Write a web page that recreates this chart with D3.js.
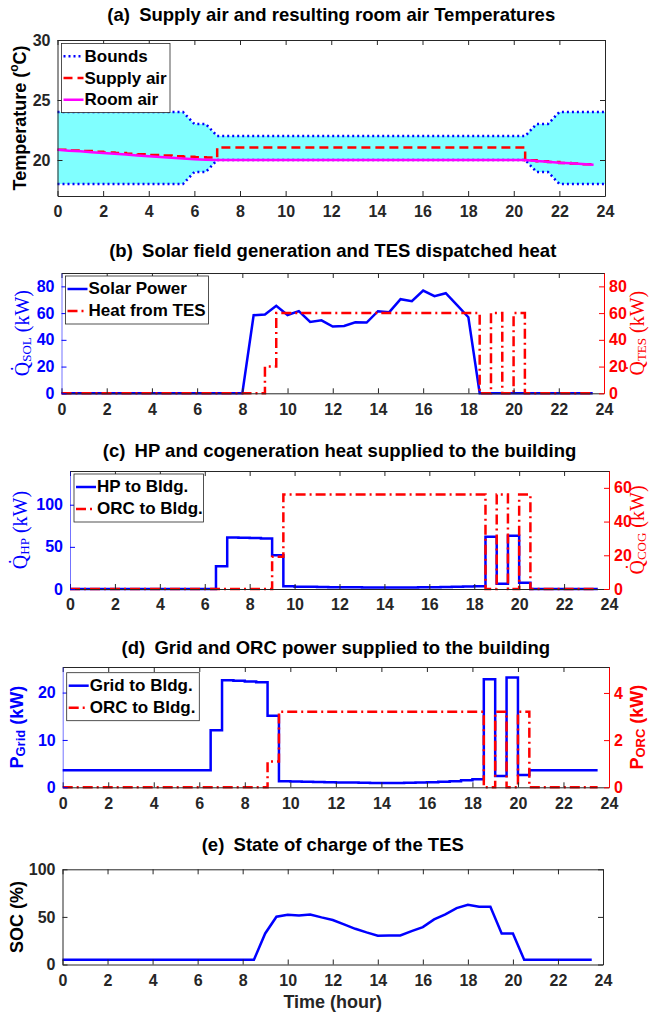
<!DOCTYPE html>
<html>
<head>
<meta charset="utf-8">
<script src="https://cdn.jsdelivr.net/npm/d3@7"></script>
<style>
  body { margin: 0; background: #fff; }
  text { font-family: "Liberation Sans", Arial, sans-serif; }
</style>
</head>
<body>
<script>
'use strict';

// -----------------------------------------------------
// Data (half-hourly time steps)

const hours = [0, 0.5, 1, 1.5, 2, 2.5, 3, 3.5, 4, 4.5, 5, 5.5, 6, 6.5, 7, 7.5, 8, 8.5, 9, 9.5,
    10, 10.5, 11, 11.5, 12, 12.5, 13, 13.5, 14, 14.5, 15, 15.5, 16, 16.5, 17, 17.5, 18, 18.5, 19, 19.5,
    20, 20.5, 21, 21.5, 22, 22.5, 23, 23.5];
const boundHours = hours.concat([24]);
const xTicks = [0, 2, 4, 6, 8, 10, 12, 14, 16, 18, 20, 22, 24];

// (a) temperatures
const upperBound = [24, 24, 24, 24, 24, 24, 24, 24, 24, 24, 24, 24, 23, 23,
    22, 22, 22, 22, 22, 22, 22, 22, 22, 22, 22, 22, 22, 22, 22, 22, 22, 22, 22, 22, 22, 22, 22, 22, 22, 22, 22, 22,
    23, 23, 24, 24, 24, 24, 24];
const lowerBound = [18, 18, 18, 18, 18, 18, 18, 18, 18, 18, 18, 18, 19, 19,
    20, 20, 20, 20, 20, 20, 20, 20, 20, 20, 20, 20, 20, 20, 20, 20, 20, 20, 20, 20, 20, 20, 20, 20, 20, 20, 20, 20,
    19, 19, 18, 18, 18, 18, 18];
const supplyAir = [20.86, 20.80, 20.74, 20.69, 20.63, 20.58, 20.52, 20.47, 20.42, 20.37, 20.32, 20.27, 20.23, 20.2,
    21.05, 21.05, 21.05, 21.05, 21.05, 21.05, 21.05, 21.05, 21.05, 21.05, 21.05, 21.05, 21.05, 21.05,
    21.05, 21.05, 21.05, 21.05, 21.05, 21.05, 21.05, 21.05, 21.05, 21.05, 21.05, 21.05, 21.05,
    19.97, 19.9, 19.83, 19.76, 19.7, 19.64, 19.6];
const roomAir = [20.85, 20.78, 20.72, 20.65, 20.58, 20.52, 20.45, 20.38, 20.32, 20.25, 20.18, 20.12, 20.06, 20.02,
    20, 20, 20, 20, 20, 20, 20, 20, 20, 20, 20, 20, 20, 20, 20, 20, 20, 20, 20, 20, 20, 20, 20, 20, 20, 20, 20, 20,
    19.92, 19.85, 19.78, 19.72, 19.66, 19.6];

// (b) solar field and TES
const solarPower = [0, 0, 0, 0, 0, 0, 0, 0, 0, 0, 0, 0, 0, 0, 0, 0, 0,
    58.4, 58.9, 65.4, 58.6, 61.5, 53.4, 54.6, 49.9, 50.4, 53.1, 52.9, 61.4, 60.7, 70.4, 68.9, 76.9, 72.7, 74.9, 66, 56.9,
    0, 0, 0, 0, 0, 0, 0, 0, 0, 0, 0];
const heatFromTes = [0, 0, 0, 0, 0, 0, 0, 0, 0, 0, 0, 0, 0, 0, 0, 0, 0, 0,
    20, 60, 60, 60, 60, 60, 60, 60, 60, 60, 60, 60, 60, 60, 60, 60, 60, 60, 60,
    0, 60, 0, 60, 0, 0, 0, 0, 0, 0, 0];

// (c) HP and cogeneration heat
const hpHeat = [0, 0, 0, 0, 0, 0, 0, 0, 0, 0, 0, 0, 0,
    27, 61.1, 60.8, 60.4, 60.0, 40,
    3.2, 2.8, 2.6, 2.4, 2.2, 2.1, 2.0, 1.9, 1.8, 1.8, 1.8, 1.9, 2.0, 2.2, 2.4, 2.7, 3.0, 3.4,
    61.9, 6.3, 63.3, 7.3, 0, 0, 0, 0, 0, 0, 0];
const orcHeat = [0, 0, 0, 0, 0, 0, 0, 0, 0, 0, 0, 0, 0, 0, 0, 0, 0, 0,
    19.2, 56, 56, 56, 56, 56, 56, 56, 56, 56, 56, 56, 56, 56, 56, 56, 56, 56, 56,
    0, 56, 0, 56, 0, 0, 0, 0, 0, 0, 0];

// (d) grid and ORC power
const gridPower = [3.6, 3.6, 3.6, 3.6, 3.6, 3.6, 3.6, 3.6, 3.6, 3.6, 3.6, 3.6, 3.6,
    12.06, 22.6, 22.5, 22.35, 22.2, 15.1,
    1.28, 1.2, 1.15, 1.1, 1.05, 1.0, 1.0, 0.95, 0.9, 0.9, 0.9, 0.95, 1.0, 1.05, 1.15, 1.3, 1.5, 1.7,
    22.8, 2.4, 23.2, 2.6, 3.6, 3.6, 3.6, 3.6, 3.6, 3.6, 3.6];
const orcPower = [0, 0, 0, 0, 0, 0, 0, 0, 0, 0, 0, 0, 0, 0, 0, 0, 0, 0,
    1.09, 3.2, 3.2, 3.2, 3.2, 3.2, 3.2, 3.2, 3.2, 3.2, 3.2, 3.2, 3.2, 3.2, 3.2, 3.2, 3.2, 3.2, 3.2,
    0, 3.2, 0, 3.2, 0, 0, 0, 0, 0, 0, 0];

// (e) state of charge
const soc = [5, 5, 5, 5, 5, 5, 5, 5, 5, 5, 5, 5, 5, 5, 5, 5, 5, 5,
    32.6, 50.2, 52.3, 51.6, 52.6, 49.5, 46.7, 42.1, 37.5, 33.7, 30.2, 30.5, 30.5, 35.1, 39.3, 47.4, 52.6, 59.3,
    62.8, 60.7, 60.7, 32.6, 32.6, 5, 5, 5, 5, 5, 5, 5];

// -----------------------------------------------------
// Styles

const BLUE = '#0000ff';
const RED = '#ff0000';
const MAGENTA = '#ff00ff';
const CYAN = '#80ffff';
const INK = '#262626';
const DOTTED = '2,3';
const DASHED = '9,5';
const DASHDOT = '10,4,2,4';
const TICK_FONT = 16;

const svg = d3.select('body').append('svg')
    .attr('width', 650)
    .attr('height', 1017);

// -----------------------------------------------------
// Helpers

function styleAxis(g, color) {
    g.attr('color', color)
     .attr('font-family', '"Liberation Sans", Arial, sans-serif')
     .attr('font-size', TICK_FONT)
     .attr('font-weight', 'bold');
    g.selectAll('text').attr('fill', color);
}

function drawTitle(box, label) {
    svg.append('text')
       .attr('x', (box.left + box.right) / 2)
       .attr('y', box.titleY)
       .attr('text-anchor', 'middle')
       .attr('dominant-baseline', 'middle')
       .attr('font-size', 18.5)
       .attr('font-weight', 'bold')
       .attr('fill', '#000')
       .text(label);
}

function drawAxes(box, x, yLeft, leftTicks, leftColor, yRight, rightTicks) {
    const fmt = d3.format('~g');

    // bottom and top
    svg.append('g')
       .attr('transform', `translate(0,${box.bottom})`)
       .call(d3.axisBottom(x).tickValues(xTicks).tickSize(-5).tickSizeOuter(0).tickPadding(10))
       .call(styleAxis, INK);
    svg.append('g')
       .attr('transform', `translate(0,${box.top})`)
       .call(d3.axisTop(x).tickValues(xTicks).tickSize(-5).tickSizeOuter(0).tickFormat(''))
       .call(styleAxis, INK);

    // left
    const left = svg.append('g')
       .attr('transform', `translate(${box.left},0)`)
       .call(d3.axisLeft(yLeft).tickValues(leftTicks).tickFormat(fmt).tickSize(-5).tickSizeOuter(0).tickPadding(7))
       .call(styleAxis, leftColor);
    if (leftColor !== INK) left.select('.domain').attr('stroke-opacity', 0.55);

    // right
    if (yRight) {
        svg.append('g')
           .attr('transform', `translate(${box.right},0)`)
           .call(d3.axisRight(yRight).tickValues(rightTicks).tickFormat(fmt).tickSize(-5).tickSizeOuter(0).tickPadding(5))
           .call(styleAxis, RED);
    } else {
        svg.append('g')
           .attr('transform', `translate(${box.right},0)`)
           .call(d3.axisRight(yLeft).tickValues(leftTicks).tickSize(-5).tickSizeOuter(0).tickFormat(''))
           .call(styleAxis, INK);
    }
}

function drawSeries(xs, ys, x, y, color, dash, curve) {
    const line = d3.line()
        .x((d, i) => x(xs[i]))
        .y(d => y(d))
        .curve(curve);
    svg.append('path')
       .datum(ys)
       .attr('d', line)
       .attr('fill', 'none')
       .attr('stroke', color)
       .attr('stroke-width', 2.5)
       .attr('stroke-dasharray', dash);
}

function drawLegend(x0, y0, w, rowH, rows) {
    const h = rows.length * rowH + 4;
    svg.append('rect')
       .attr('x', x0).attr('y', y0)
       .attr('width', w).attr('height', h)
       .attr('fill', '#fff')
       .attr('stroke', INK)
       .attr('stroke-width', 0.8);
    rows.forEach((r, i) => {
        const cy = y0 + 2 + rowH / 2 + i * rowH;
        svg.append('line')
           .attr('x1', x0 + 2).attr('x2', x0 + 22)
           .attr('y1', cy).attr('y2', cy)
           .attr('stroke', r.color)
           .attr('stroke-width', 2.5)
           .attr('stroke-dasharray', r.dash);
        svg.append('text')
           .attr('x', x0 + 23).attr('y', cy + 1)
           .attr('dominant-baseline', 'middle')
           .attr('font-size', 17)
           .attr('font-weight', 'bold')
           .attr('fill', '#000')
           .text(r.label);
    });
}

// Rotated axis label with a subscript
function drawYLabel(cx, cy, main, sub, tail, color, serif) {
    const t = svg.append('text')
       .attr('transform', `translate(${cx},${cy}) rotate(-90)`)
       .attr('text-anchor', 'middle')
       .attr('dominant-baseline', 'middle')
       .attr('fill', color)
       .attr('font-size', serif ? 20 : 18)
       .attr('font-weight', serif ? 'normal' : 'bold')
       .style('font-family', serif ? '"Liberation Serif", "DejaVu Serif", serif' : '"Liberation Sans", Arial, sans-serif');
    t.append('tspan').text(main);
    t.append('tspan')
     .attr('dy', 4)
     .attr('font-size', 13)
     .text(sub);
    t.append('tspan')
     .attr('dy', -4)
     .text(tail);
    return t;
}

// -----------------------------------------------------
// (a) Supply air and room air temperatures

{
    const box = { left: 57.5, right: 605, top: 40, bottom: 196, titleY: 16 };
    const x = d3.scaleLinear().domain([0, 24]).range([box.left, box.right]);
    const y = d3.scaleLinear().domain([17, 30]).range([box.bottom, box.top]);
    drawTitle(box, '(a)\u2002Supply air and resulting room air Temperatures');

    const band = d3.area()
        .x((d, i) => x(boundHours[i]))
        .y0((d, i) => y(lowerBound[i]))
        .y1(d => y(d));
    svg.append('path').datum(upperBound).attr('d', band).attr('fill', CYAN);

    drawSeries(boundHours, upperBound, x, y, BLUE, DOTTED, d3.curveLinear);
    drawSeries(boundHours, lowerBound, x, y, BLUE, DOTTED, d3.curveLinear);
    drawSeries(hours, supplyAir, x, y, RED, DASHED, d3.curveStepAfter);
    drawSeries(hours, roomAir, x, y, MAGENTA, null, d3.curveLinear);

    drawAxes(box, x, y, [20, 25, 30], INK);

    drawLegend(61.5, 43.5, 108.5, 21.7, [
        { label: 'Bounds', color: BLUE, dash: DOTTED },
        { label: 'Supply air', color: RED, dash: DASHED },
        { label: 'Room air', color: MAGENTA, dash: null }
    ]);

    const lab = svg.append('text')
       .attr('transform', `translate(21,${(box.top + box.bottom) / 2}) rotate(-90)`)
       .attr('text-anchor', 'middle')
       .attr('dominant-baseline', 'middle')
       .attr('font-size', 18)
       .attr('font-weight', 'bold')
       .attr('fill', '#000');
    lab.append('tspan').text('Temperature (');
    lab.append('tspan').attr('dy', -6).attr('font-size', 12).text('o');
    lab.append('tspan').attr('dy', 6).text('C)');
}

// -----------------------------------------------------
// (b) Solar field generation and TES dispatched heat

{
    const box = { left: 61.5, right: 604, top: 273, bottom: 393.3, titleY: 252 };
    const x = d3.scaleLinear().domain([0, 24]).range([box.left, box.right]);
    const yL = d3.scaleLinear().domain([0, 90]).range([box.bottom, box.top]);
    const yR = d3.scaleLinear().domain([0, 90]).range([box.bottom, box.top]);
    drawTitle(box, '(b)\u2002Solar field generation and TES dispatched heat');

    drawSeries(hours, solarPower, x, yL, BLUE, null, d3.curveLinear);
    drawSeries(hours, heatFromTes, x, yR, RED, DASHDOT, d3.curveStepAfter);

    drawAxes(box, x, yL, [0, 20, 40, 60, 80], BLUE, yR, [0, 20, 40, 60, 80]);

    drawLegend(65.5, 276, 143, 22, [
        { label: 'Solar Power', color: BLUE, dash: null },
        { label: 'Heat from TES', color: RED, dash: DASHDOT }
    ]);

    drawYLabel(24, (box.top + box.bottom) / 2, 'Q\u0307', 'SOL', ' (kW)', BLUE, true);
    drawYLabel(639, (box.top + box.bottom) / 2, 'Q\u0307', 'TES', ' (kW)', RED, true);
}

// -----------------------------------------------------
// (c) HP and cogeneration heat supplied to the building

{
    const box = { left: 70, right: 609, top: 471, bottom: 589, titleY: 452 };
    const x = d3.scaleLinear().domain([0, 24]).range([box.left, box.right]);
    const yL = d3.scaleLinear().domain([0, 140]).range([box.bottom, box.top]);
    const yR = d3.scaleLinear().domain([0, 70]).range([box.bottom, box.top]);
    drawTitle(box, '(c)\u2002HP and cogeneration heat supplied to the building');

    drawSeries(hours, hpHeat, x, yL, BLUE, null, d3.curveStepAfter);
    drawSeries(hours, orcHeat, x, yR, RED, DASHDOT, d3.curveStepAfter);

    drawAxes(box, x, yL, [0, 50, 100], BLUE, yR, [0, 20, 40, 60]);

    drawLegend(74, 474, 129.5, 22, [
        { label: 'HP to Bldg.', color: BLUE, dash: null },
        { label: 'ORC to Bldg.', color: RED, dash: DASHDOT }
    ]);

    drawYLabel(22, (box.top + box.bottom) / 2, 'Q\u0307', 'HP', ' (kW)', BLUE, true);
    drawYLabel(639, (box.top + box.bottom) / 2, 'Q\u0307', 'COG', ' (kW)', RED, true);
}

// -----------------------------------------------------
// (d) Grid and ORC power supplied to the building

{
    const box = { left: 62.7, right: 609, top: 667, bottom: 787.3, titleY: 649 };
    const x = d3.scaleLinear().domain([0, 24]).range([box.left, box.right]);
    const yL = d3.scaleLinear().domain([0, 25.4]).range([box.bottom, box.top]);
    const yR = d3.scaleLinear().domain([0, 5.1]).range([box.bottom, box.top]);
    drawTitle(box, '(d)\u2002Grid and ORC power supplied to the building');

    drawSeries(hours, gridPower, x, yL, BLUE, null, d3.curveStepAfter);
    drawSeries(hours, orcPower, x, yR, RED, DASHDOT, d3.curveStepAfter);

    drawAxes(box, x, yL, [0, 10, 20], BLUE, yR, [0, 2, 4]);

    drawLegend(66.7, 672.7, 132.6, 22, [
        { label: 'Grid to Bldg.', color: BLUE, dash: null },
        { label: 'ORC to Bldg.', color: RED, dash: DASHDOT }
    ]);

    drawYLabel(18, (box.top + box.bottom) / 2, 'P', 'Grid', ' (kW)', BLUE, false);
    drawYLabel(638, (box.top + box.bottom) / 2, 'P', 'ORC', ' (kW)', RED, false);
}

// -----------------------------------------------------
// (e) State of charge of the TES

{
    const box = { left: 62.5, right: 603, top: 869.3, bottom: 964.5, titleY: 846 };
    const x = d3.scaleLinear().domain([0, 24]).range([box.left, box.right]);
    const y = d3.scaleLinear().domain([0, 100]).range([box.bottom, box.top]);
    drawTitle(box, '(e)\u2002State of charge of the TES');

    drawSeries(hours, soc, x, y, BLUE, null, d3.curveLinear);

    drawAxes(box, x, y, [0, 50, 100], INK);

    svg.append('text')
       .attr('transform', `translate(18,${(box.top + box.bottom) / 2}) rotate(-90)`)
       .attr('text-anchor', 'middle')
       .attr('dominant-baseline', 'middle')
       .attr('font-size', 18)
       .attr('font-weight', 'bold')
       .attr('fill', '#000')
       .text('SOC (%)');

    svg.append('text')
       .attr('x', (box.left + box.right) / 2)
       .attr('y', 1003)
       .attr('text-anchor', 'middle')
       .attr('dominant-baseline', 'middle')
       .attr('font-size', 18)
       .attr('font-weight', 'bold')
       .attr('fill', INK)
       .text('Time (hour)');
}
</script>
</body>
</html>
